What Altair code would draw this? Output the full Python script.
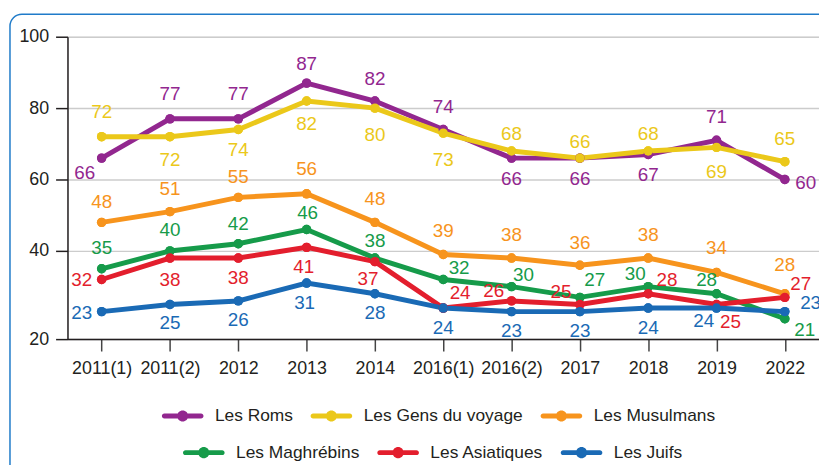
import altair as alt
import pandas as pd

# ---------------- data ----------------
categories = ["2011(1)", "2011(2)", "2012", "2013", "2014", "2016(1)",
              "2016(2)", "2017", "2018", "2019", "2022"]

roms = [66, 77, 77, 87, 82, 74, 66, 66, 67, 71, 60]
gens_du_voyage = [72, 72, 74, 82, 80, 73, 68, 66, 68, 69, 65]
musulmans = [48, 51, 55, 56, 48, 39, 38, 36, 38, 34, 28]
maghrebins = [35, 40, 42, 46, 38, 32, 30, 27, 30, 28, 21]
asiatiques = [32, 38, 38, 41, 37, 24, 26, 25, 28, 25, 27]
juifs = [23, 25, 26, 31, 28, 24, 23, 23, 24, 24, 23]

series_a = ["Les Roms", "Les Gens du voyage", "Les Musulmans"]
series_b = ["Les Maghrébins", "Les Asiatiques", "Les Juifs"]
colors_a = ["#92278f", "#ebc81a", "#f7941d"]
colors_b = ["#169b4a", "#e31e2d", "#1a6ab5"]

y_tick_values = [40, 60, 80, 100]
y_bottom = 15.3          # bottom of the axis in the original
y_bottom_label = "20"    # label printed there in the original

# value-label placement (pixel offsets from each point)
roms_dx = [-17, 0, 0, 0, 0, 0, 0, 0, 0, 0, 21]
roms_dy = [15, -25, -25, -19, -22, -23, 21, 21, 21, -23, 4]
gens_dx = [0, 0, 0, 0, 0, 0, 0, 0, 0, 0, 0]
gens_dy = [-25, 24, 21, 23, 27, 27, -17, -16, -17, 25, -23]
mus_dx = [0, 0, 0, 0, 0, 0, 0, 0, 0, 0, 0]
mus_dy = [-20, -23, -21, -25, -24, -24, -23, -22, -23, -25, -29]
mag_dx = [0, 0, 0, 1, 0, 16, 12, 15, -13, -10, 20]
mag_dy = [-21, -21, -20, -17, -17, -12, -12, -17, -13, -14, 11]
asi_dx = [-20, 0, 0, -3, -7, 17, -18, -19, 19, 14, 16]
asi_dy = [1, 22, 20, 20, 18, -15, -10, -13, -14, 18, -13]
jui_dx = [-20, 0, 0, -2, 0, 0, 0, 0, 0, -13, 26]
jui_dy = [1, 19, 19, 20, 19, 20, 20, 20, 20, 13, -9]

values = [roms, gens_du_voyage, musulmans, maghrebins, asiatiques, juifs]
dxs = [roms_dx, gens_dx, mus_dx, mag_dx, asi_dx, jui_dx]
dys = [roms_dy, gens_dy, mus_dy, mag_dy, asi_dy, jui_dy]
names = series_a + series_b

rows = []
for name, vals, dx, dy in zip(names, values, dxs, dys):
    for c, v, a, b in zip(categories, vals, dx, dy):
        rows.append({"category": c, "value": v, "series": name, "dx": a, "dy": b,
                     "group": "A" if name in series_a else "B"})
df = pd.DataFrame(rows)
dfA = df[df.group == "A"]
dfB = df[df.group == "B"]

FONT = "Liberation Sans, Arial, Helvetica, sans-serif"
DARK = "#231f20"

x_enc = alt.X("category:N", sort=categories, title=None,
              scale=alt.Scale(type="point", padding=0.5),
              axis=alt.Axis(labelAngle=0, tickSize=12, labelPadding=9, grid=False,
                            labelFontSize=18, labelColor=DARK, domainColor=DARK,
                            domainWidth=1.5, tickColor="#444444", tickWidth=1.5))
y_enc = alt.Y("value:Q", title=None,
              scale=alt.Scale(domain=[y_bottom, 100], nice=False, zero=False),
              axis=alt.Axis(values=[y_bottom] + y_tick_values,
                            labelExpr="datum.value < 20 ? '%s' : datum.label" % y_bottom_label,
                            tickSize=12, labelPadding=7, grid=True, gridColor="#cccccc",
                            gridWidth=1.5, labelFontSize=18, labelColor=DARK,
                            domainColor=DARK, domainWidth=1.5, tickColor=DARK,
                            tickWidth=1.5))

sym_path = ("M-0.86,-0.116 L0.86,-0.116 A0.116,0.116 0 0 1 0.86,0.116 "
            "L-0.86,0.116 A0.116,0.116 0 0 1 -0.86,-0.116 Z "
            "M-0.26,0 A0.26,0.26 0 1 1 0.26,0 A0.26,0.26 0 1 1 -0.26,0 Z")

legend_common = dict(orient="none", direction="horizontal", columns=3, title=None,
                     symbolType=sym_path, symbolSize=1849, symbolStrokeWidth=0,
                     symbolOpacity=1, labelFontSize=17.5, labelFont=FONT,
                     labelColor=DARK, labelOffset=11, columnPadding=17, labelLimit=0)

color_a = alt.Color("series:N", scale=alt.Scale(domain=series_a, range=colors_a),
                    legend=alt.Legend(legendX=94.7, legendY=361, **legend_common))
fill_b = alt.Fill("series:N", scale=alt.Scale(domain=series_b, range=colors_b),
                  legend=alt.Legend(legendX=116, legendY=398, **legend_common))
stroke_b = alt.Stroke("series:N", scale=alt.Scale(domain=series_b, range=colors_b),
                      legend=None)

baseA = alt.Chart(dfA)
baseB = alt.Chart(dfB)

legend_pts_a = baseA.mark_circle(size=90, opacity=1).encode(x=x_enc, y=y_enc, color=color_a)
legend_pts_b = baseB.mark_circle(size=90, opacity=1).encode(x=x_enc, y=y_enc, fill=fill_b)

lines_a = baseA.mark_line(strokeWidth=5).encode(x=x_enc, y=y_enc, color=color_a,
                                                 detail="series:N")
lines_b = baseB.mark_line(strokeWidth=5).encode(x=x_enc, y=y_enc, stroke=stroke_b,
                                                 detail="series:N")
pts_a = baseA.mark_circle(size=90, opacity=1).encode(x=x_enc, y=y_enc, color=color_a)
pts_b = baseB.mark_circle(size=90, opacity=1).encode(x=x_enc, y=y_enc, fill=fill_b)

# value labels: one layer per vertical offset (yOffset is not applied on a continuous y)
text_layers = []
for base, data, chan in ((baseA, dfA, "color"), (baseB, dfB, "fill")):
    for dyv in sorted(data["dy"].unique()):
        enc = dict(x=x_enc, y=y_enc, text="value:Q",
                   xOffset=alt.XOffset("dx:Q", scale=None))
        enc[chan] = color_a if chan == "color" else fill_b
        text_layers.append(
            base.mark_text(fontSize=19, font=FONT, align="center", baseline="middle",
                           dy=int(dyv))
            .encode(**enc)
            .transform_filter(alt.datum.dy == int(dyv))
        )

frame = alt.Chart(pd.DataFrame({"f": [0]})).mark_rect(
    fillOpacity=0, stroke="#1f7bc9", strokeWidth=1.5, cornerRadius=12
).encode(x=alt.value(-58), x2=alt.value(900), y=alt.value(-22.7), y2=alt.value(560))

chart = alt.layer(
    legend_pts_a, legend_pts_b, lines_a, lines_b, pts_a, pts_b, *text_layers, frame
).properties(
    width=758, height=305,
    autosize=alt.AutoSizeParams(type="none"),
    padding={"left": 60, "top": 27, "right": 0, "bottom": 125},
).configure_view(stroke=None).configure(font=FONT)

chart.save("out.html", embed_options={"renderer": "svg", "actions": False})
